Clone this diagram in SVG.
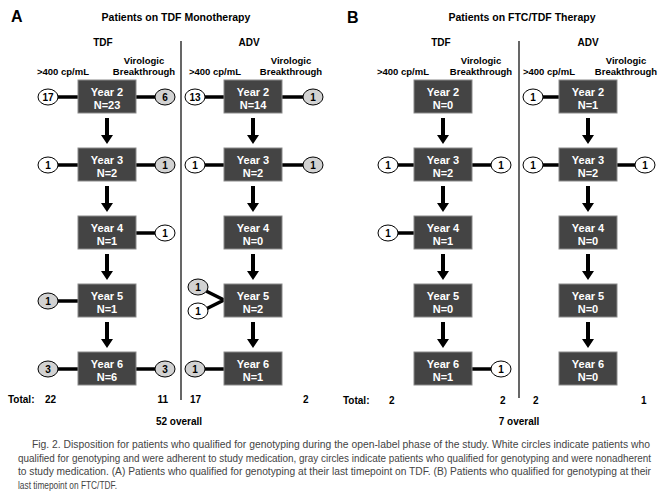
<svg xmlns="http://www.w3.org/2000/svg" xmlns:xlink="http://www.w3.org/1999/xlink" width="664" height="498" viewBox="0 0 664 498">
<style>
text{font-family:"Liberation Sans",Arial,sans-serif;}
.b{font-weight:bold;fill:#000;}
.panel{font-size:16px;font-weight:bold;}
.title{font-size:10.5px;font-weight:bold;text-anchor:middle;}
.hd{font-size:10px;font-weight:bold;text-anchor:middle;}
.sub{font-size:9.5px;font-weight:bold;}
.box rect{fill:#444;stroke:#8a8a8a;stroke-width:1;}
.box text{fill:#fff;font-size:11px;font-weight:bold;text-anchor:middle;}
.c ellipse{stroke:#000;stroke-width:1;}
.w ellipse{fill:#fff;}
.g ellipse{fill:#d2d2d2;}
.c text{font-size:10px;font-weight:bold;text-anchor:middle;}
.ln{stroke:#000;stroke-width:3.5;fill:none;}
.div{stroke:#000;stroke-width:1.2;}
.tot{font-size:10px;font-weight:bold;}
.cap{font-size:10px;fill:#444;}
</style>
<defs>
<path id="arr" d="M-2,0 H2 V17 H6 L0,26 L-6,17 H-2 Z" fill="#000"/>
</defs>

<!-- Panel labels and titles -->
<text class="b panel" x="11" y="22">A</text>
<text class="b title" x="176" y="21">Patients on TDF Monotherapy</text>
<text class="b panel" x="347" y="23">B</text>
<text class="b title" x="522" y="21">Patients on FTC/TDF Therapy</text>

<!-- column headers -->
<text class="b hd" x="103" y="46">TDF</text>
<text class="b hd" x="249" y="46">ADV</text>
<text class="b hd" x="441" y="46">TDF</text>
<text class="b hd" x="588" y="46">ADV</text>

<text class="b sub" x="37" y="75">&gt;400 cp/mL</text>
<text class="b sub" x="144" y="64" text-anchor="middle">Virologic</text>
<text class="b sub" x="144" y="75" text-anchor="middle">Breakthrough</text>
<text class="b sub" x="189" y="75">&gt;400 cp/mL</text>
<text class="b sub" x="291" y="64" text-anchor="middle">Virologic</text>
<text class="b sub" x="291" y="75" text-anchor="middle">Breakthrough</text>
<text class="b sub" x="377" y="75">&gt;400 cp/mL</text>
<text class="b sub" x="481" y="64" text-anchor="middle">Virologic</text>
<text class="b sub" x="481" y="75" text-anchor="middle">Breakthrough</text>
<text class="b sub" x="523" y="75">&gt;400 cp/mL</text>
<text class="b sub" x="626" y="64" text-anchor="middle">Virologic</text>
<text class="b sub" x="626" y="75" text-anchor="middle">Breakthrough</text>

<!-- dividers -->
<line class="div" x1="181" y1="41" x2="181" y2="400"/>
<line class="div" x1="519" y1="41" x2="519" y2="398"/>

<!-- connectors -->
<g id="connectors">
<use xlink:href="#arr" x="107" y="118"/>
<use xlink:href="#arr" x="107" y="186"/>
<use xlink:href="#arr" x="107" y="254"/>
<use xlink:href="#arr" x="107" y="322"/>
<use xlink:href="#arr" x="253" y="118"/>
<use xlink:href="#arr" x="253" y="186"/>
<use xlink:href="#arr" x="253" y="254"/>
<use xlink:href="#arr" x="253" y="322"/>
<use xlink:href="#arr" x="443" y="118"/>
<use xlink:href="#arr" x="443" y="186"/>
<use xlink:href="#arr" x="443" y="254"/>
<use xlink:href="#arr" x="443" y="322"/>
<use xlink:href="#arr" x="588" y="118"/>
<use xlink:href="#arr" x="588" y="186"/>
<use xlink:href="#arr" x="588" y="254"/>
<use xlink:href="#arr" x="588" y="322"/>

<line class="ln" x1="58" y1="97" x2="78" y2="97"/>
<line class="ln" x1="136" y1="97" x2="155" y2="97"/>
<line class="ln" x1="58" y1="165" x2="78" y2="165"/>
<line class="ln" x1="136" y1="165" x2="155" y2="165"/>
<line class="ln" x1="136" y1="233" x2="155" y2="233"/>
<line class="ln" x1="58" y1="301" x2="78" y2="301"/>
<line class="ln" x1="58" y1="369" x2="78" y2="369"/>
<line class="ln" x1="136" y1="369" x2="155" y2="369"/>
<line class="ln" x1="205" y1="97" x2="224" y2="97"/>
<line class="ln" x1="282" y1="97" x2="303" y2="97"/>
<line class="ln" x1="205" y1="165" x2="224" y2="165"/>
<line class="ln" x1="282" y1="165" x2="303" y2="165"/>
<polyline class="ln" points="206,291 224,300 206,309"/>
<line class="ln" x1="205" y1="369" x2="224" y2="369"/>
<line class="ln" x1="398" y1="165" x2="414" y2="165"/>
<line class="ln" x1="472" y1="165" x2="491" y2="165"/>
<line class="ln" x1="398" y1="233" x2="414" y2="233"/>
<line class="ln" x1="472" y1="369" x2="491" y2="369"/>
<line class="ln" x1="543" y1="97" x2="559" y2="97"/>
<line class="ln" x1="543" y1="165" x2="559" y2="165"/>
<line class="ln" x1="617" y1="165" x2="635" y2="165"/>
</g>

<g id="a-tdf-y2" class="box"><rect x="78" y="80" width="58" height="33"/><text x="107" y="96">Year 2</text><text x="107" y="108.5">N=23</text></g>
<g id="a-tdf-y3" class="box"><rect x="78" y="148" width="58" height="33"/><text x="107" y="164">Year 3</text><text x="107" y="176.5">N=2</text></g>
<g id="a-tdf-y4" class="box"><rect x="78" y="216" width="58" height="33"/><text x="107" y="232">Year 4</text><text x="107" y="244.5">N=1</text></g>
<g id="a-tdf-y5" class="box"><rect x="78" y="284" width="58" height="33"/><text x="107" y="300">Year 5</text><text x="107" y="312.5">N=1</text></g>
<g id="a-tdf-y6" class="box"><rect x="78" y="352" width="58" height="33"/><text x="107" y="368">Year 6</text><text x="107" y="380.5">N=6</text></g>
<g id="a-adv-y2" class="box"><rect x="224" y="80" width="58" height="33"/><text x="253" y="96">Year 2</text><text x="253" y="108.5">N=14</text></g>
<g id="a-adv-y3" class="box"><rect x="224" y="148" width="58" height="33"/><text x="253" y="164">Year 3</text><text x="253" y="176.5">N=2</text></g>
<g id="a-adv-y4" class="box"><rect x="224" y="216" width="58" height="33"/><text x="253" y="232">Year 4</text><text x="253" y="244.5">N=0</text></g>
<g id="a-adv-y5" class="box"><rect x="224" y="284" width="58" height="33"/><text x="253" y="300">Year 5</text><text x="253" y="312.5">N=2</text></g>
<g id="a-adv-y6" class="box"><rect x="224" y="352" width="58" height="33"/><text x="253" y="368">Year 6</text><text x="253" y="380.5">N=1</text></g>
<g id="b-tdf-y2" class="box"><rect x="414" y="80" width="58" height="33"/><text x="443" y="96">Year 2</text><text x="443" y="108.5">N=0</text></g>
<g id="b-tdf-y3" class="box"><rect x="414" y="148" width="58" height="33"/><text x="443" y="164">Year 3</text><text x="443" y="176.5">N=2</text></g>
<g id="b-tdf-y4" class="box"><rect x="414" y="216" width="58" height="33"/><text x="443" y="232">Year 4</text><text x="443" y="244.5">N=1</text></g>
<g id="b-tdf-y5" class="box"><rect x="414" y="284" width="58" height="33"/><text x="443" y="300">Year 5</text><text x="443" y="312.5">N=0</text></g>
<g id="b-tdf-y6" class="box"><rect x="414" y="352" width="58" height="33"/><text x="443" y="368">Year 6</text><text x="443" y="380.5">N=1</text></g>
<g id="b-adv-y2" class="box"><rect x="559" y="80" width="58" height="33"/><text x="588" y="96">Year 2</text><text x="588" y="108.5">N=1</text></g>
<g id="b-adv-y3" class="box"><rect x="559" y="148" width="58" height="33"/><text x="588" y="164">Year 3</text><text x="588" y="176.5">N=2</text></g>
<g id="b-adv-y4" class="box"><rect x="559" y="216" width="58" height="33"/><text x="588" y="232">Year 4</text><text x="588" y="244.5">N=0</text></g>
<g id="b-adv-y5" class="box"><rect x="559" y="284" width="58" height="33"/><text x="588" y="300">Year 5</text><text x="588" y="312.5">N=0</text></g>
<g id="b-adv-y6" class="box"><rect x="559" y="352" width="58" height="33"/><text x="588" y="368">Year 6</text><text x="588" y="380.5">N=0</text></g>

<g id="c-a1" class="c w"><ellipse cx="48" cy="97" rx="10" ry="8"/><text x="48" y="100.5">17</text></g>
<g id="c-a2" class="c g"><ellipse cx="165" cy="97" rx="10" ry="8"/><text x="165" y="100.5">6</text></g>
<g id="c-a3" class="c w"><ellipse cx="48" cy="165" rx="10" ry="8"/><text x="48" y="168.5">1</text></g>
<g id="c-a4" class="c g"><ellipse cx="165" cy="165" rx="10" ry="8"/><text x="165" y="168.5">1</text></g>
<g id="c-a5" class="c w"><ellipse cx="165" cy="233" rx="10" ry="8"/><text x="165" y="236.5">1</text></g>
<g id="c-a6" class="c g"><ellipse cx="48" cy="301" rx="10" ry="8"/><text x="48" y="304.5">1</text></g>
<g id="c-a7" class="c g"><ellipse cx="48" cy="369" rx="10" ry="8"/><text x="48" y="372.5">3</text></g>
<g id="c-a8" class="c g"><ellipse cx="165" cy="369" rx="10" ry="8"/><text x="165" y="372.5">3</text></g>
<g id="c-a9" class="c w"><ellipse cx="195" cy="97" rx="10" ry="8"/><text x="195" y="100.5">13</text></g>
<g id="c-a10" class="c g"><ellipse cx="313" cy="97" rx="10" ry="8"/><text x="313" y="100.5">1</text></g>
<g id="c-a11" class="c w"><ellipse cx="195" cy="165" rx="10" ry="8"/><text x="195" y="168.5">1</text></g>
<g id="c-a12" class="c g"><ellipse cx="313" cy="165" rx="10" ry="8"/><text x="313" y="168.5">1</text></g>
<g id="c-a13" class="c g"><ellipse cx="198" cy="287" rx="10" ry="8"/><text x="198" y="290.5">1</text></g>
<g id="c-a14" class="c w"><ellipse cx="198" cy="311" rx="10" ry="8"/><text x="198" y="314.5">1</text></g>
<g id="c-a15" class="c g"><ellipse cx="195" cy="369" rx="10" ry="8"/><text x="195" y="372.5">1</text></g>
<g id="c-b1" class="c w"><ellipse cx="388" cy="165" rx="10" ry="8"/><text x="388" y="168.5">1</text></g>
<g id="c-b2" class="c w"><ellipse cx="501" cy="165" rx="10" ry="8"/><text x="501" y="168.5">1</text></g>
<g id="c-b3" class="c w"><ellipse cx="388" cy="233" rx="10" ry="8"/><text x="388" y="236.5">1</text></g>
<g id="c-b4" class="c w"><ellipse cx="501" cy="369" rx="10" ry="8"/><text x="501" y="372.5">1</text></g>
<g id="c-b5" class="c w"><ellipse cx="533" cy="97" rx="10" ry="8"/><text x="533" y="100.5">1</text></g>
<g id="c-b6" class="c w"><ellipse cx="533" cy="165" rx="10" ry="8"/><text x="533" y="168.5">1</text></g>
<g id="c-b7" class="c w"><ellipse cx="645" cy="165" rx="10" ry="8"/><text x="645" y="168.5">1</text></g>

<text class="b tot" x="8" y="403">Total:</text>
<text class="b tot" x="45" y="403">22</text>
<text class="b tot" x="168" y="403" text-anchor="end">11</text>
<text class="b tot" x="190" y="403">17</text>
<text class="b tot" x="303" y="403">2</text>
<text class="b tot" x="179" y="425" text-anchor="middle">52 overall</text>
<text class="b tot" x="343" y="404">Total:</text>
<text class="b tot" x="389" y="404">2</text>
<text class="b tot" x="500" y="404">2</text>
<text class="b tot" x="533" y="404">2</text>
<text class="b tot" x="641" y="404">1</text>
<text class="b tot" x="519" y="425" text-anchor="middle">7 overall</text>

<text class="cap" x="32" y="448" textLength="618" lengthAdjust="spacingAndGlyphs">Fig. 2. Disposition for patients who qualified for genotyping during the open-label phase of the study. White circles indicate patients who</text>
<text class="cap" x="18" y="462" textLength="633" lengthAdjust="spacingAndGlyphs">qualified for genotyping and were adherent to study medication, gray circles indicate patients who qualified for genotyping and were nonadherent</text>
<text class="cap" x="18" y="475" textLength="633" lengthAdjust="spacingAndGlyphs">to study medication. (A) Patients who qualified for genotyping at their last timepoint on TDF. (B) Patients who qualified for genotyping at their</text>
<text class="cap" x="18" y="489" textLength="99" lengthAdjust="spacingAndGlyphs">last timepoint on FTC/TDF.</text>
</svg>
